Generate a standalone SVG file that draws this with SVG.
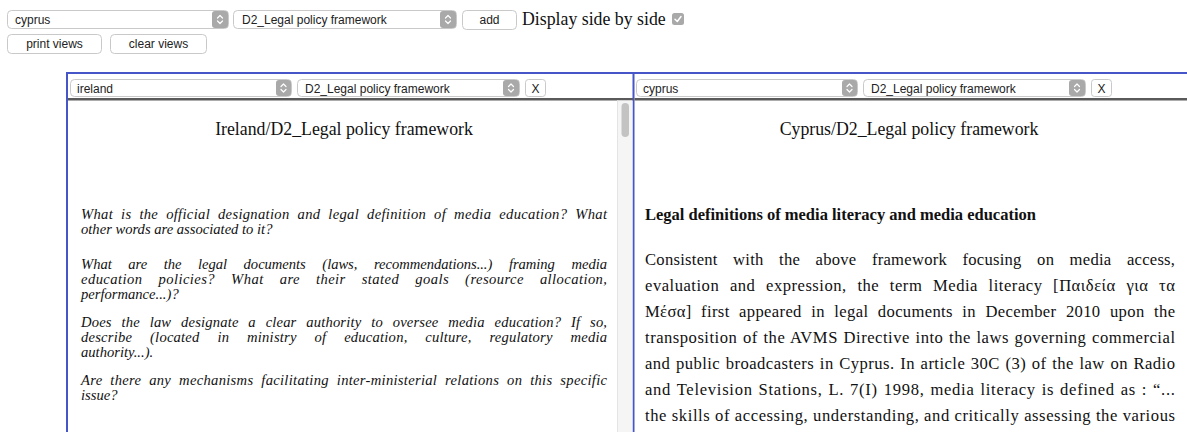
<svg xmlns="http://www.w3.org/2000/svg" width="1187" height="432" viewBox="0 0 1187 432">
  <style>
    .ui { font-family: "Liberation Sans", Arial, sans-serif; font-size: 12px; fill: #222; }
    .ctl { fill: #fff; stroke: #c9c9c9; stroke-width: 1; }
    .arrowbox { fill: #a9a9a9; }
    .chev { fill: none; stroke: #fff; stroke-width: 1.2; stroke-linecap: round; stroke-linejoin: round; }
    .serif { font-family: "Liberation Serif", "Times New Roman", serif; fill: #111; }
    .title { font-size: 17.8px; text-anchor: middle; }
    .q { font-size: 14.6px; font-style: italic; }
    .body { font-size: 16.6px; }
    .head { font-size: 16.5px; font-weight: bold; }
    .frame { stroke: #4656c8; stroke-width: 2; fill: none; }
  </style>
  <defs>
    <!-- up/down chevron pair used inside every select arrow -->
    <g id="chevrons">
      <path class="chev" d="M-2.5,-1.5 L0,-4 L2.5,-1.5 M-2.5,1.5 L0,4 L2.5,1.5"/>
    </g>
  </defs>

  <rect width="1187" height="432" fill="#fff"/>

  <!-- top toolbar -->
  <g id="toolbar">
    <g id="country-select">
      <rect class="ctl" x="7.5" y="10.5" width="221" height="18" rx="4"/>
      <rect class="arrowbox" x="212" y="11" width="16" height="17" rx="3"/>
      <use href="#chevrons" x="220" y="19.5"/>
      <text class="ui" x="15" y="23.5">cyprus</text>
    </g>
    <g id="topic-select">
      <rect class="ctl" x="233.5" y="10.5" width="223" height="18" rx="4"/>
      <rect class="arrowbox" x="440" y="11" width="16" height="17" rx="3"/>
      <use href="#chevrons" x="448" y="19.5"/>
      <text class="ui" x="242" y="23.5">D2_Legal policy framework</text>
    </g>
    <g id="add-button">
      <rect class="ctl" x="462.5" y="10.5" width="54" height="19" rx="4"/>
      <text class="ui" x="489.5" y="24" text-anchor="middle">add</text>
    </g>
    <g id="side-by-side">
      <text class="serif" x="522" y="25" font-size="17.8">Display side by side</text>
      <rect x="672" y="13" width="12" height="12" rx="2.5" fill="#a9a9a9"/>
      <path d="M675,19.2 L677.3,21.5 L681,16.5" fill="none" stroke="#fff" stroke-width="1.5" stroke-linecap="round" stroke-linejoin="round"/>
    </g>
    <g id="print-button">
      <rect class="ctl" x="7.5" y="34.5" width="94" height="19" rx="4"/>
      <text class="ui" x="54.5" y="48" text-anchor="middle">print views</text>
    </g>
    <g id="clear-button">
      <rect class="ctl" x="110.5" y="34.5" width="96" height="19" rx="4"/>
      <text class="ui" x="158.5" y="48" text-anchor="middle">clear views</text>
    </g>
  </g>

  <!-- panel frames -->
  <g id="frames">
    <line class="frame" x1="67" y1="73" x2="1187" y2="73"/>
    <line class="frame" x1="67" y1="72" x2="67" y2="432"/>
    <line class="frame" x1="633.5" y1="72" x2="633.5" y2="432"/>
    <rect x="68" y="98" width="565" height="2.5" fill="#5a5a5a"/>
    <rect x="634.5" y="98" width="553" height="2.5" fill="#5a5a5a"/>
  </g>

  <!-- left view -->
  <g id="view-ireland">
    <g id="ireland-header">
      <rect class="ctl" x="70.5" y="79.5" width="221" height="17" rx="4"/>
      <rect class="arrowbox" x="276" y="80" width="15" height="16" rx="3"/>
      <use href="#chevrons" x="283.5" y="88"/>
      <text class="ui" x="77" y="92.5">ireland</text>
      <rect class="ctl" x="297.5" y="79.5" width="222" height="17" rx="4"/>
      <rect class="arrowbox" x="503" y="80" width="16" height="16" rx="3"/>
      <use href="#chevrons" x="511" y="88"/>
      <text class="ui" x="305" y="92.5">D2_Legal policy framework</text>
      <rect class="ctl" x="525.5" y="79.5" width="20" height="17" rx="3"/>
      <text class="ui" x="535.5" y="92.5" text-anchor="middle">X</text>
    </g>
    <g id="ireland-scrollbar">
      <rect x="617" y="100.5" width="15.5" height="331.5" fill="#f5f5f5"/>
      <line x1="617.5" y1="100.5" x2="617.5" y2="432" stroke="#e4e4e4"/>
      <rect x="621.5" y="103" width="7.5" height="34" rx="3.75" fill="#c3c3c3"/>
    </g>
    <!-- justified lines: word-spacing carries most of the stretch, textLength trims the rest -->
    <g id="ireland-content">
      <text class="serif title" x="344" y="135">Ireland/D2_Legal policy framework</text>
      <text class="serif q" x="81" y="218.5" word-spacing="4" textLength="526" lengthAdjust="spacing">What is the official designation and legal definition of media education? What</text>
      <text class="serif q" x="81" y="233.5">other words are associated to it?</text>
      <text class="serif q" x="81" y="268.5" word-spacing="13" textLength="526" lengthAdjust="spacing">What are the legal documents (laws, recommendations...) framing media</text>
      <text class="serif q" x="81" y="283.5" word-spacing="12" textLength="526" lengthAdjust="spacing">education policies? What are their stated goals (resource allocation,</text>
      <text class="serif q" x="81" y="298.5">performance...)?</text>
      <text class="serif q" x="81" y="326.5" word-spacing="6" textLength="526" lengthAdjust="spacing">Does the law designate a clear authority to oversee media education? If so,</text>
      <text class="serif q" x="81" y="341.5" word-spacing="14" textLength="526" lengthAdjust="spacing">describe (located in ministry of education, culture, regulatory media</text>
      <text class="serif q" x="81" y="356.5">authority...).</text>
      <text class="serif q" x="81" y="384.5" word-spacing="4" textLength="526" lengthAdjust="spacing">Are there any mechanisms facilitating inter-ministerial relations on this specific</text>
      <text class="serif q" x="81" y="400">issue?</text>
    </g>
  </g>

  <!-- right view -->
  <g id="view-cyprus">
    <g id="cyprus-header">
      <rect class="ctl" x="636.5" y="79.5" width="221" height="17" rx="4"/>
      <rect class="arrowbox" x="842" y="80" width="15" height="16" rx="3"/>
      <use href="#chevrons" x="849.5" y="88"/>
      <text class="ui" x="643" y="92.5">cyprus</text>
      <rect class="ctl" x="863.5" y="79.5" width="222" height="17" rx="4"/>
      <rect class="arrowbox" x="1069" y="80" width="16" height="16" rx="3"/>
      <use href="#chevrons" x="1077" y="88"/>
      <text class="ui" x="871" y="92.5">D2_Legal policy framework</text>
      <rect class="ctl" x="1091.5" y="79.5" width="20" height="17" rx="3"/>
      <text class="ui" x="1101.5" y="92.5" text-anchor="middle">X</text>
    </g>
    <g id="cyprus-content">
      <text class="serif title" x="909" y="135">Cyprus/D2_Legal policy framework</text>
      <text class="serif head" x="645" y="219.5">Legal definitions of media literacy and media education</text>
      <text class="serif body" x="645" y="264.5" word-spacing="11" textLength="530" lengthAdjust="spacing">Consistent with the above framework focusing on media access,</text>
      <text class="serif body" x="645" y="290.5" word-spacing="6" textLength="530" lengthAdjust="spacing">evaluation and expression, the term Media literacy [Παιδεία για τα</text>
      <text class="serif body" x="645" y="316.5" word-spacing="5" textLength="530" lengthAdjust="spacing">Μέσα] first appeared in legal documents in December 2010 upon the</text>
      <text class="serif body" x="645" y="342.5" word-spacing="1" textLength="530" lengthAdjust="spacing">transposition of the AVMS Directive into the laws governing commercial</text>
      <text class="serif body" x="645" y="368.5" word-spacing="1" textLength="530" lengthAdjust="spacing">and public broadcasters in Cyprus. In article 30C (3) of the law on Radio</text>
      <text class="serif body" x="645" y="394.5" word-spacing="1" textLength="530" lengthAdjust="spacing">and Television Stations, L. 7(I) 1998, media literacy is defined as : “...</text>
      <text class="serif body" x="645" y="420.5" textLength="530" lengthAdjust="spacing">the skills of accessing, understanding, and critically assessing the various</text>
    </g>
  </g>
</svg>
